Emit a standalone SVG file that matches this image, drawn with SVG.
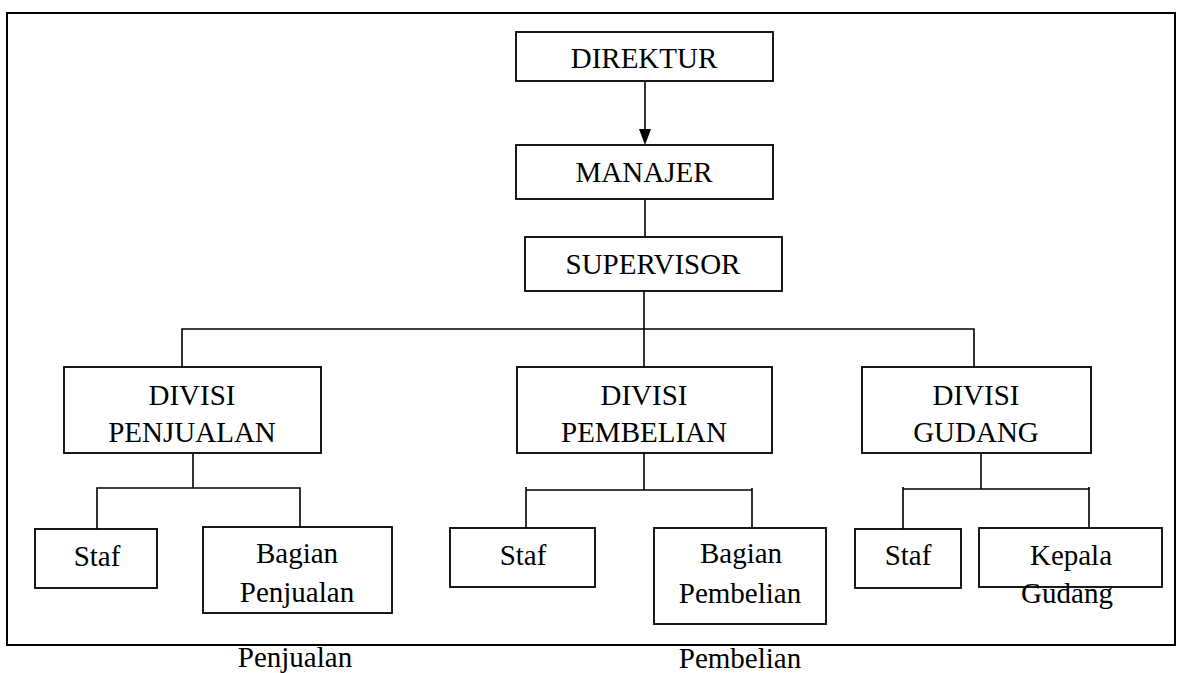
<svg xmlns="http://www.w3.org/2000/svg" width="1180" height="673" viewBox="0 0 1180 673">
<style>
.box{fill:#fff;stroke:#000;stroke-width:1.8}
.ln{fill:none;stroke:#000;stroke-width:1.6}
.t{font-family:'Liberation Serif','Times New Roman',serif;font-size:29px;fill:#000;text-anchor:middle}
</style>
<rect width="1180" height="673" fill="#fff"/>
<rect id="frame" x="7" y="13" width="1168" height="632" fill="none" stroke="#000" stroke-width="2"/>
<g id="connectors">
<line class="ln" x1="645" y1="81" x2="645" y2="129"/>
<path d="M639,129 L651,129 L645,145 Z" fill="#000"/>
<line class="ln" x1="645" y1="199" x2="645" y2="237"/>
<line class="ln" x1="644" y1="291" x2="644" y2="367"/>
<polyline class="ln" points="182,367 182,329 974,329 974,367"/>
<polyline class="ln" points="193,448 193,488"/>
<polyline class="ln" points="97,529 97,488 300,488 300,527"/>
<polyline class="ln" points="644,448 644,490"/>
<polyline class="ln" points="526,528 526,487 526,490 752,490 752,528"/>
<line class="ln" x1="752" y1="488" x2="752" y2="490"/>
<polyline class="ln" points="981,448 981,489"/>
<polyline class="ln" points="903,529 903,487 903,489 1089,489 1089,528"/>
<line class="ln" x1="1089" y1="487" x2="1089" y2="489"/>
</g>
<g class="t" font-family="Liberation Serif, serif">
<g id="direktur"><rect class="box" x="516" y="32" width="257" height="49"/><text x="644" y="68">DIREKTUR</text></g>
<g id="manajer"><rect class="box" x="516" y="145" width="257" height="54"/><text x="644" y="182">MANAJER</text></g>
<g id="supervisor"><rect class="box" x="525" y="237" width="257" height="54"/><text x="653" y="274">SUPERVISOR</text></g>
<g id="divisi-penjualan"><rect class="box" x="64" y="367" width="257" height="86"/><text x="192" y="405">DIVISI</text><text x="192" y="442">PENJUALAN</text></g>
<g id="divisi-pembelian"><rect class="box" x="517" y="367" width="255" height="86"/><text x="644" y="405">DIVISI</text><text x="644" y="442">PEMBELIAN</text></g>
<g id="divisi-gudang"><rect class="box" x="862" y="367" width="229" height="86"/><text x="976" y="405">DIVISI</text><text x="976" y="442">GUDANG</text></g>
<g id="staf-penjualan"><rect class="box" x="35" y="529" width="122" height="59"/><text x="97" y="566">Staf</text></g>
<g id="bagian-penjualan"><rect class="box" x="203" y="527" width="189" height="86"/><text x="297" y="563">Bagian</text><text x="297" y="602">Penjualan</text></g>
<g id="staf-pembelian"><rect class="box" x="450" y="528" width="145" height="59"/><text x="523" y="565">Staf</text></g>
<g id="bagian-pembelian"><rect class="box" x="654" y="528" width="172" height="96"/><text x="741" y="563">Bagian</text><text x="740" y="603">Pembelian</text></g>
<g id="staf-gudang"><rect class="box" x="855" y="529" width="106" height="59"/><text x="908" y="565">Staf</text></g>
<g id="kepala-gudang"><rect class="box" x="979" y="528" width="183" height="59"/><text x="1071" y="565">Kepala</text><text x="1067" y="603">Gudang</text></g>
<g id="labels"><text x="295" y="667">Penjualan</text><text x="740" y="668">Pembelian</text></g>
</g>
</svg>
